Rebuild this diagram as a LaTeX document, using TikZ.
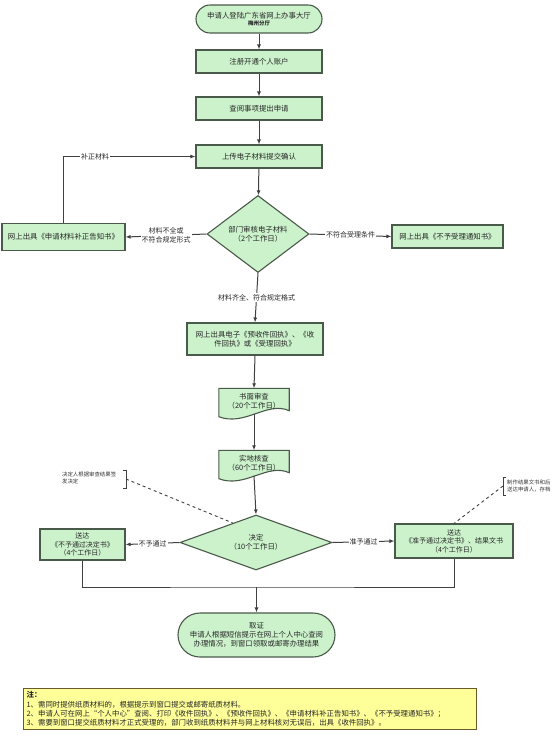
\documentclass[tikz,border=0pt]{standalone}
\usepackage{fontspec}
\setmainfont{Noto Sans CJK SC}
\usetikzlibrary{shapes.geometric,arrows.meta,backgrounds}
\definecolor{boxfill}{HTML}{CCF2CC}
\definecolor{boxdraw}{HTML}{4A5A4A}
\definecolor{linecol}{HTML}{404040}
\definecolor{notefill}{HTML}{FFFF99}
\definecolor{notedraw}{HTML}{6B5B2B}
\begin{document}
\begin{tikzpicture}[x=1pt,y=-1pt,
  base/.style={fill=boxfill, draw=boxdraw, line width=1.1pt, text=black!85,
    font=\fontsize{7.4}{9}\selectfont, align=center, inner sep=1pt},
  proc/.style={base, rectangle, minimum width=126pt, minimum height=23pt},
  term/.style={base, rectangle},
  dia/.style={base, diamond, aspect=1.4},
  docnode/.style={font=\fontsize{7.4}{9}\selectfont, text=black!85, align=center,
    inner sep=1pt, minimum width=70pt, minimum height=25pt},
  docshape/.style={fill=boxfill, draw=boxdraw, line width=1.1pt},
  line/.style={draw=linecol, line width=1pt},
  arr/.style={line, -{Latex[length=5pt,width=4pt]}},
  lbl/.style={fill=white, inner sep=1pt, font=\fontsize{7}{8.5}\selectfont,
    text=black!85, align=center},
  anno/.style={font=\fontsize{5.4}{7}\selectfont, text=black!80, align=left, inner sep=0pt},
  brk/.style={draw=linecol, line width=0.8pt},
  dsh/.style={draw=linecol, line width=0.9pt, dashed},
  note/.style={fill=notefill, draw=notedraw, line width=1.2pt, align=left,
    font=\fontsize{7.4}{9.3}\selectfont, inner sep=3pt, text=black!85}
]
\useasboundingbox (0,0) rectangle (554,737);

% main column
\node[term, minimum width=126pt, minimum height=28pt, rounded corners=14pt] (start) at (259,19)
  {申请人登陆广东省网上办事大厅\\[-2pt]{\fontsize{5.5}{6}\selectfont\bfseries 梅州分厅}};
\node[proc] (reg) at (259,61.5) {注册开通个人账户};
\node[proc] (query) at (259,108.5) {查阅事项提出申请};
\node[proc] (upload) at (259,156.5) {上传电子材料提交确认};
\node[dia, minimum width=102pt, minimum height=77pt] (check) at (258,234) {部门审核电子材料\\（2个工作日）};
\node[proc, minimum width=123pt, minimum height=27pt] (supp) at (63.5,237) {网上出具《申请材料补正告知书》};
\node[proc, minimum width=111pt] (reject) at (447.5,236.5) {网上出具《不予受理通知书》};
\node[proc, minimum width=136pt, minimum height=32pt] (receipt) at (255,339)
  {网上出具电子《预收件回执》、《收\\件回执》或《受理回执》};

\node[docnode] (paper) at (254,401) {书面审查\\（20个工作日）};
\node[docnode] (field) at (254,463) {实地核查\\（60个工作日）};
\begin{scope}[on background layer]
  \foreach \d in {paper,field}{
    \draw[docshape] (\d.north west) -- (\d.north east) -- ([shift={(0,-3)}]\d.south east)
      .. controls ([shift={(-22,-13)}]\d.south east) and ([shift={(26,13)}]\d.south west)
      .. ([shift={(0,3)}]\d.south west) -- cycle;
  }
\end{scope}

\node[dia, aspect=2.5, minimum width=152pt, minimum height=55pt] (decide) at (256,542.5) {决定\\（10个工作日）};
\node[proc, minimum width=85pt, minimum height=31pt, font=\fontsize{7}{8.6}\selectfont] (deny) at (82.5,544.5)
  {送达\\《不予通过决定书》\\（4个工作日）};
\node[proc, minimum width=118pt, minimum height=34pt, font=\fontsize{7}{8.6}\selectfont] (grant) at (454,541)
  {送达\\《准予通过决定书》、结果文书\\（4个工作日）};
\node[term, minimum width=157pt, minimum height=44pt, rounded corners=22pt] (finish) at (256.5,635)
  {取证\\申请人根据短信提示在网上个人中心查阅\\办理情况，到窗口领取或邮寄办理结果};

% connectors
\draw[arr] (start) -- (reg);
\draw[arr] (reg) -- (query);
\draw[arr] (query) -- (upload);
\draw[arr] (upload) -- (check);
\draw[arr] (check.west) -- node[lbl, midway] {材料不全或\\不符合规定形式} (supp.east);
\draw[arr] (supp.north) |- node[lbl, pos=0.62] {补正材料} (upload.west);
\draw[arr] (check.east) -- node[lbl, midway] {不符合受理条件} (reject.west);
\draw[arr] (check.south) -- node[lbl, midway] {材料齐全、符合规定格式} (receipt.north);
\draw[arr] (receipt.south) -- (paper.north);
\draw[arr] (paper.south) -- (field.north);
\draw[arr] (field.south) -- (decide.north);
\draw[arr] (decide.west) -- node[lbl, midway] {不予通过} (deny.east);
\draw[arr] (decide.east) -- node[lbl, midway] {准予通过} (grant.west);
\coordinate (merge) at (256.5,587);
\draw[line] (deny.south) |- (merge) -| (grant.south);
\draw[arr] (merge) -- (finish.north);

% annotations
\node[anno, anchor=west] (annoL) at (62,478) {决定人根据审查结果签\\发决定};
\coordinate (bL) at (126,479);
\draw[brk] ([shift={(-3,-9)}]bL) -- ([shift={(0,-9)}]bL) -- ([shift={(0,9)}]bL) -- ([shift={(-3,9)}]bL);
\draw[dsh] (bL) -- (decide.140);

\node[anno, anchor=west] (annoR) at (507,486) {制作结果文书和后\\送达申请人，存档};
\coordinate (bR) at (503,486);
\draw[brk] ([shift={(3,-9)}]bR) -- ([shift={(0,-9)}]bR) -- ([shift={(0,9)}]bR) -- ([shift={(3,9)}]bR);
\draw[dsh] (bR) -- (grant.north);

% note
\node[note, anchor=north west, minimum width=453pt, minimum height=40pt, text width=447pt] (note) at (23,688)
  {{\bfseries 注：}\\
   1、需同时提供纸质材料的，根据提示到窗口提交或邮寄纸质材料。\\
   2、申请人可在网上“个人中心”查阅、打印《收件回执》、《预收件回执》、《申请材料补正告知书》、《不予受理通知书》；\\
   3、需要到窗口提交纸质材料才正式受理的，部门收到纸质材料并与网上材料核对无误后，出具《收件回执》。};
\end{tikzpicture}
\end{document}
